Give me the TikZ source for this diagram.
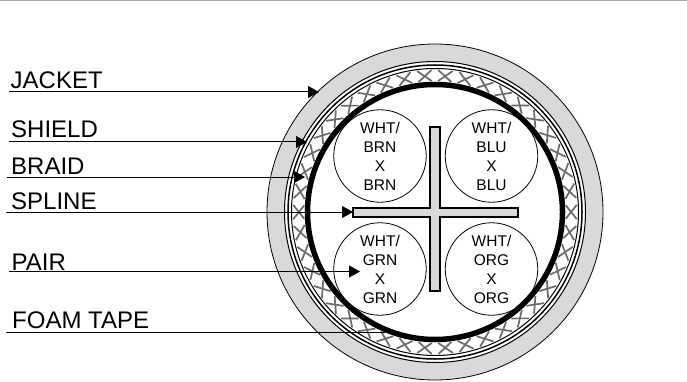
\documentclass[tikz,border=0pt]{standalone}
\usepackage{fontspec}
\setmainfont{Liberation Sans}
\usetikzlibrary{arrows.meta}
\definecolor{jacketgray}{HTML}{D9D9D9}
\tikzset{
  tag/.style={anchor=base west,inner sep=0pt,font=\fontsize{24}{26}\selectfont},
  pair/.style={circle,draw,line width=0.8pt,minimum size=92.5pt,inner sep=0pt,align=center,
    font=\fontsize{15.5}{19}\selectfont},
  lead/.style={line width=1pt,-{Triangle[length=11pt,width=12pt]}},
  ring/.style={draw,line width=#1},
  strand/.style={line width=1.7pt,black!58}
}
\begin{document}
\begin{tikzpicture}[x=1pt,y=-1pt]
      \useasboundingbox (0,0) rectangle (687,382);
      \coordinate (hub) at (435,212);
      \coordinate (ruleleft) at (0,0.7);
      \coordinate (ruleright) at (687,0.7);
      \draw[black!35,line width=1.5pt] (ruleleft) -- (ruleright);
      % cable layers
      \fill[jacketgray] (hub) circle [radius=168pt];
      \draw[line width=0.8pt] (hub) circle [radius=168pt];
      \path[fill=white,ring=1pt] (hub) circle [radius=150.5pt];
      \path[ring=1.5pt] (hub) circle [radius=147pt];
      \path[ring=1pt] (hub) circle [radius=143.5pt];
      % braid
      \begin{scope}[shift={(hub)}]
        \foreach \a in {0,8.57,...,359} {
          \draw[strand] (\a-2.9:131) -- (\a+2.9:142);
          \draw[strand] (\a+2.9:131) -- (\a-2.9:142);
        }
      \end{scope}
      \path[ring=5.5pt] (hub) circle [radius=127.5pt];
      % spline
      \draw[fill=jacketgray,line width=1.3pt]
        (353,208) -- (430,208) -- (430,127) -- (440,127) -- (440,208) -- (518,208)
        -- (518,217) -- (440,217) -- (440,291) -- (430,291) -- (430,217) -- (353,217) -- cycle;
      % pairs
      \node[pair] (brn) at (380,156) {WHT/\\BRN\\X\\BRN};
      \node[pair] (blu) at (491.5,156) {WHT/\\BLU\\X\\BLU};
      \node[pair] (grn) at (380,269) {WHT/\\GRN\\X\\GRN};
      \node[pair] (org) at (491.5,269) {WHT/\\ORG\\X\\ORG};
      % labels
      \node[tag] (jacket) at (10.5,88.5) {JACKET};
      \node[tag] (shield) at (11,138) {SHIELD};
      \node[tag] (braid) at (11,174.5) {BRAID};
      \node[tag] (spline) at (11,209) {SPLINE};
      \node[tag] (pairtag) at (11.5,270.5) {PAIR};
      \node[tag] (foam) at (12,328.5) {FOAM TAPE};
      % leaders
      \coordinate (jacketfrom) at (9,92);
      \coordinate (jacketto) at (319,92);
      \coordinate (shieldfrom) at (9,142);
      \coordinate (shieldto) at (307,142);
      \coordinate (braidfrom) at (7,177);
      \coordinate (braidto) at (305,177);
      \coordinate (splinefrom) at (6,212);
      \coordinate (splineto) at (353,212);
      \coordinate (pairfrom) at (9,271.5);
      \coordinate (pairto) at (360,271.5);
      \coordinate (foamfrom) at (6,332);
      \coordinate (foamto) at (385,332);
      \draw[lead] (jacketfrom) -- (jacketto);
      \draw[lead] (shieldfrom) -- (shieldto);
      \draw[lead] (braidfrom) -- (braidto);
      \draw[lead] (splinefrom) -- (splineto);
      \draw[lead] (pairfrom) -- (pairto);
      \draw[line width=1pt] (foamfrom) -- (foamto);
    \end{tikzpicture}
\end{document}
